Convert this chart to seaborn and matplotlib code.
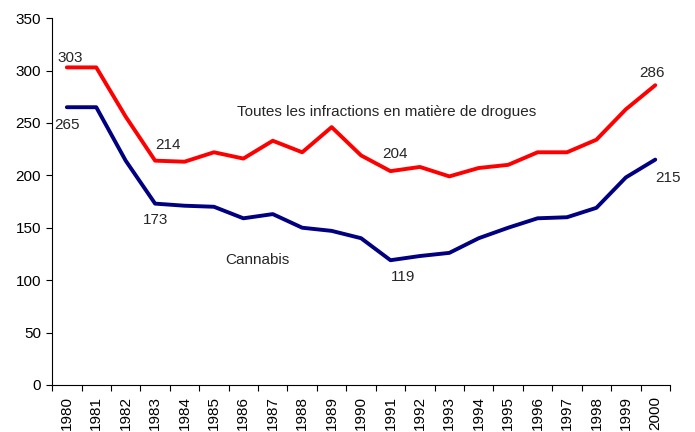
import seaborn as sns
import pandas as pd
import matplotlib.pyplot as plt
from matplotlib.ticker import FixedLocator, MultipleLocator

# Données
annees = list(range(1980, 2001))
toutes_infractions = [303, 303, 256, 214, 213, 222, 216, 233, 222, 246, 219,
                      204, 208, 199, 207, 210, 222, 222, 234, 263, 286]
cannabis = [265, 265, 214, 173, 171, 170, 159, 163, 150, 147, 140,
            119, 123, 126, 140, 150, 159, 160, 169, 198, 215]

df = pd.DataFrame({
    'pos': range(len(annees)),
    'annee': annees,
    'toutes': toutes_infractions,
    'cannabis': cannabis,
})

sns.set_style('ticks')
plt.rcParams['font.family'] = ['Liberation Sans', 'DejaVu Sans']

fig = plt.figure(figsize=(6.95, 4.32), dpi=100)
ax = fig.add_axes([0.075, 0.109, 0.889, 0.849])

sns.lineplot(x='pos', y='toutes', data=df, color='#FF0000', linewidth=2.8, ax=ax)
sns.lineplot(x='pos', y='cannabis', data=df, color='#000080', linewidth=2.8, ax=ax)

ax.set_xlim(-0.5, len(annees) - 0.5)
ax.set_ylim(0, 350)
ax.yaxis.set_major_locator(MultipleLocator(50))

# étiquettes au centre des catégories, graduations entre les catégories
ax.set_xticks(df['pos'])
ax.set_xticklabels([str(a) for a in annees], rotation=90)
ax.xaxis.set_minor_locator(FixedLocator([p - 0.5 for p in range(len(annees) + 1)]))
ax.tick_params(axis='x', which='major', length=0, pad=8)
ax.tick_params(axis='x', which='minor', length=4, width=0.8, color='black')
ax.tick_params(axis='y', length=4, width=0.8, color='black', pad=4)
ax.tick_params(labelsize=11, labelcolor='black')

for side in ['top', 'right']:
    ax.spines[side].set_visible(False)
for side in ['left', 'bottom']:
    ax.spines[side].set_color('black')
    ax.spines[side].set_linewidth(0.8)

ax.set_xlabel('')
ax.set_ylabel('')

# valeurs annotées
fs = 11
i = annees.index
ax.text(0.11, 312, str(toutes_infractions[i(1980)]), ha='center', va='center', fontsize=fs)
ax.text(0.01, 248, str(cannabis[i(1980)]), ha='center', va='center', fontsize=fs)
ax.text(3.44, 229, str(toutes_infractions[i(1983)]), ha='center', va='center', fontsize=fs)
ax.text(3.0, 157, str(cannabis[i(1983)]), ha='center', va='center', fontsize=fs)
ax.text(11.15, 220, str(toutes_infractions[i(1991)]), ha='center', va='center', fontsize=fs)
ax.text(11.43, 103, str(cannabis[i(1991)]), ha='center', va='center', fontsize=fs)
ax.text(19.9, 298, str(toutes_infractions[i(2000)]), ha='center', va='center', fontsize=fs)
ax.text(20.43, 197, str(cannabis[i(2000)]), ha='center', va='center', fontsize=fs)

ax.text(5.78, 260, 'Toutes les infractions en matière de drogues',
        ha='left', va='center', fontsize=11)
ax.text(5.38, 119, 'Cannabis', ha='left', va='center', fontsize=11)

plt.savefig('out.png', dpi=100)
